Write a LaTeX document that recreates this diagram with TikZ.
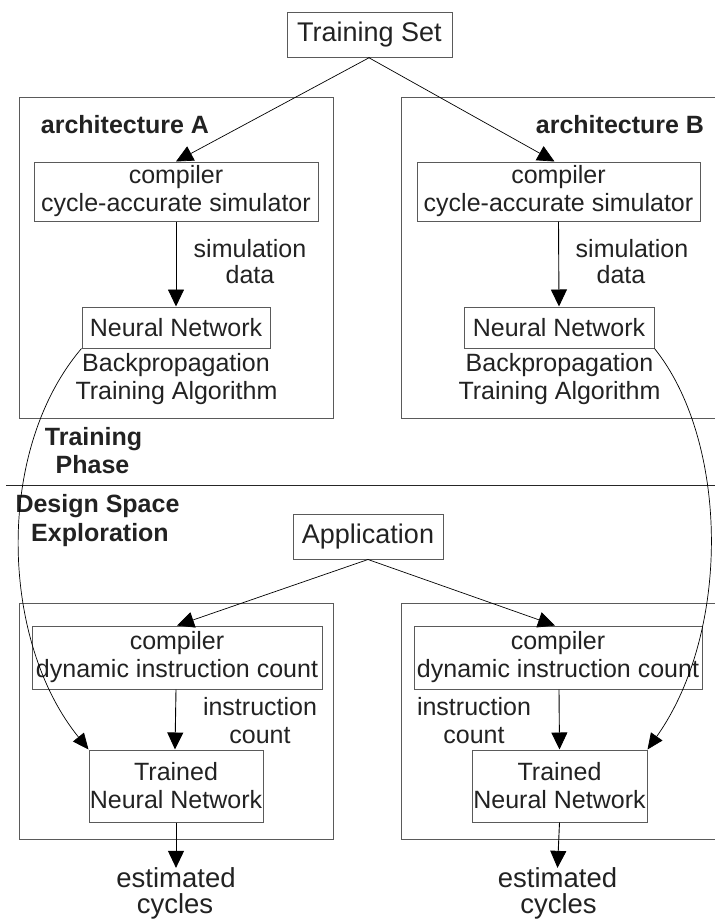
\documentclass[tikz,border=0pt]{standalone}
\usepackage{fontspec}
\setmainfont{Liberation Sans}
\usetikzlibrary{arrows.meta}
\definecolor{boxgray}{HTML}{5A5A5A}
\definecolor{txt}{HTML}{222222}
\begin{document}
\begin{tikzpicture}[x=1pt,y=-1pt,
  box/.style={draw=boxgray, line width=1pt, inner sep=0pt, align=center, text=txt,
              font=\fontsize{25}{28}\selectfont},
  bigbox/.style={box, font=\fontsize{27}{30}\selectfont},
  frame/.style={draw=boxgray, line width=1pt},
  lbl/.style={anchor=base, inner sep=0pt, text=txt, font=\fontsize{25}{28}\selectfont},
  biglbl/.style={lbl, font=\fontsize{27.5}{30}\selectfont},
  boldlbl/.style={lbl, font=\fontsize{25}{28}\selectfont\bfseries},
  arr/.style={draw=black, line width=0.9pt, -{Triangle[length=17pt,width=16pt]}},
  carr/.style={draw=black, line width=0.7pt, -{Triangle[length=16pt,width=14pt]}}
]
\useasboundingbox (0,0) rectangle (715,924);

% --- Training phase ---
\node[bigbox, minimum width=165pt, minimum height=45pt] (ts) at (369.5,34.5) {Training Set};

\draw[frame] (19,97) rectangle (333,418);
\draw[frame] (715,97) -- (401,97) -- (401,418) -- (715,418);

\node[boldlbl] (archA) at (125,133) {architecture A};
\node[boldlbl] (archB) at (620,133) {architecture B};

\node[box, minimum width=284pt, minimum height=59pt] (compA) at (176,191.5) {compiler\\cycle-accurate simulator};
\node[box, minimum width=283pt, minimum height=59pt] (compB) at (558.5,191.5) {compiler\\cycle-accurate simulator};

\node[box, minimum width=188pt, minimum height=41pt] (nnA) at (176,327.5) {Neural Network};
\node[box, minimum width=190pt, minimum height=41pt] (nnB) at (559,327.5) {Neural Network};

\node[lbl] (simA1) at (250,257) {simulation};
\node[lbl] (simA2) at (250,283) {data};
\node[lbl] (simB1) at (632,257) {simulation};
\node[lbl] (simB2) at (621,283) {data};

\node[lbl] (bpA1) at (176,371) {Backpropagation};
\node[lbl] (bpA2) at (176.5,399) {Training Algorithm};
\node[lbl] (bpB1) at (559.5,371) {Backpropagation};
\node[lbl] (bpB2) at (559.5,399) {Training Algorithm};

\node[boldlbl] (tp1) at (93.5,445) {Training};
\node[boldlbl] (tp2) at (92.5,473) {Phase};

\coordinate (sepL) at (6,485);
\coordinate (sepR) at (715,485);
\draw[draw=black!85, line width=1pt] (sepL) -- (sepR);

\node[boldlbl] (ds1) at (97.5,512) {Design Space};
\node[boldlbl] (ds2) at (100,541) {Exploration};

% --- Design space exploration ---
\node[bigbox, minimum width=150pt, minimum height=45pt] (app) at (368,536.5) {Application};

\draw[frame] (19,603) rectangle (333,839);
\draw[frame] (715,603) -- (401,603) -- (401,839) -- (715,839);

\node[box, minimum width=290pt, minimum height=63pt] (dcA) at (177,657.5) {compiler\\dynamic instruction count};
\node[box, minimum width=288pt, minimum height=63pt] (dcB) at (558,657.5) {compiler\\dynamic instruction count};

\node[box, minimum width=174pt, minimum height=72pt] (tnA) at (176,786) {Trained\\Neural Network};
\node[box, minimum width=175pt, minimum height=72pt] (tnB) at (559.5,786) {Trained\\Neural Network};

\node[lbl] (icA1) at (260,715) {instruction};
\node[lbl] (icA2) at (260,743) {count};
\node[lbl] (icB1) at (474,715) {instruction};
\node[lbl] (icB2) at (474,743) {count};

\node[biglbl] (ecA1) at (176,887) {estimated};
\node[biglbl] (ecA2) at (175,913) {cycles};
\node[biglbl] (ecB1) at (557.5,887) {estimated};
\node[biglbl] (ecB2) at (558.5,913) {cycles};

% --- connectors ---
\draw[arr, line width=0.7pt] (ts.south) -- (compA.north);
\draw[arr, line width=0.7pt] ([xshift=-1pt]ts.south) -- ([xshift=-4pt]compB.north);
\draw[arr] (compA.south) -- (nnA.north);
\draw[arr] (compB.south) -- (nnB.north);

\draw[arr, line width=0.7pt] (app.south) -- (dcA.north);
\draw[arr, line width=0.7pt] (app.south) -- ([xshift=-3pt]dcB.north);
\draw[arr] ([xshift=-1pt]dcA.south) -- ([xshift=-1pt]tnA.north);
\draw[arr] ([xshift=1pt]dcB.south) -- (tnB.north);

\draw[arr] (tnA.south) -- ([yshift=-1pt]ecA1.north);
\draw[arr] (tnB.south) -- ([yshift=-1pt]ecB1.north);

\draw[carr] (nnA.south west) .. controls (-5,450) and (0,640) .. (tnA.north west);
\draw[carr] (nnB.south east) .. controls (728,440) and (732,630) .. (tnB.north east);
\end{tikzpicture}
\end{document}
